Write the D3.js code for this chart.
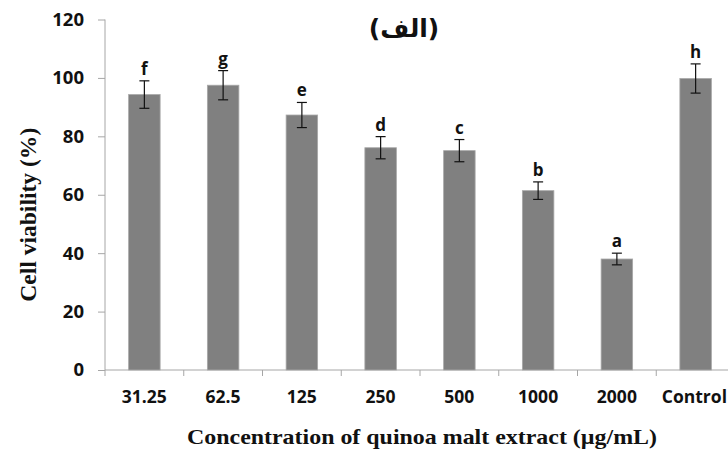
<!DOCTYPE html>
<html>
<head>
<meta charset="utf-8">
<script src="https://cdn.jsdelivr.net/npm/d3@7"></script>
<style>
  body { margin: 0; background: #fff; }
  svg { display: block; }
</style>
</head>
<body>
<div id="chart"></div>
<script>
// data
const categories = ["31.25", "62.5", "125", "250", "500", "1000", "2000", "Control"]
const viability = [94.3, 97.5, 87.3, 76.1, 75.1, 61.4, 38.0, 99.8]
const errors = [4.7, 5.0, 4.3, 3.8, 3.8, 3.0, 2.0, 5.0]
const letters = ["f", "g", "e", "d", "c", "b", "a", "h"]
const yTicks = [0, 20, 40, 60, 80, 100, 120]

const width = 728
const height = 452
const margin = {top: 19.5, right: -7, bottom: 82, left: 105}

const svg = d3
  .select("#chart")
  .append("svg")
  .attr("width", width)
  .attr("height", height)

const x = d3
  .scaleBand()
  .domain(categories)
  .range([margin.left, width - margin.right])
  .paddingInner(0.6)
  .paddingOuter(0.3)

const y = d3
  .scaleLinear()
  .domain([0, 120])
  .range([height - margin.bottom, margin.top])

const axisColor = "#a6a6a6"
const tickFont = "'Open Sans', sans-serif"

// y axis
const yAxis = svg
  .append("g")
  .attr("transform", `translate(${margin.left},0)`)
  .call(d3.axisLeft(y).tickValues(yTicks).tickSize(7).tickPadding(14))
yAxis.select(".domain").attr("stroke", axisColor).attr("d", `M0,${y(0)}V${y(120)}`)
yAxis.selectAll(".tick line").attr("stroke", axisColor)
yAxis
  .selectAll(".tick text")
  .attr("fill", "#111")
  .style("font-family", tickFont)
  .style("font-weight", "bold")
  .style("font-size", "18.5px")

// x axis: ticks sit on the band boundaries
const step = x.step()
const xAxis = svg.append("g").attr("transform", `translate(0,${y(0)})`)
xAxis
  .append("line")
  .attr("x1", margin.left)
  .attr("x2", width)
  .attr("stroke", axisColor)
xAxis
  .selectAll(".xtick")
  .data(categories)
  .enter()
  .append("line")
  .attr("class", "xtick")
  .attr("x1", d => x(d) - step * 0.3)
  .attr("x2", d => x(d) - step * 0.3)
  .attr("y1", 0)
  .attr("y2", 6)
  .attr("stroke", axisColor)
xAxis
  .selectAll(".xlabel")
  .data(categories)
  .enter()
  .append("text")
  .attr("class", "xlabel")
  .attr("x", d => x(d) + x.bandwidth() / 2)
  .attr("y", 33)
  .attr("text-anchor", "middle")
  .attr("fill", "#111")
  .style("font-family", tickFont)
  .style("font-weight", "bold")
  .style("font-size", "17.5px")
  .text(d => d)
  .filter(d => d === "Control")
  .attr("x", width - 1)
  .attr("text-anchor", "end")

// bars
const bars = svg.append("g")
bars
  .selectAll("rect")
  .data(categories)
  .enter()
  .append("rect")
  .attr("x", d => x(d))
  .attr("width", x.bandwidth())
  .attr("y", (d, i) => y(viability[i]))
  .attr("height", (d, i) => y(0) - y(viability[i]))
  .attr("fill", "#808080")
  .attr("stroke", "#a8a8a8")
  .attr("stroke-width", 0.8)

// error bars
const err = svg.append("g").attr("stroke", "#111").attr("stroke-width", 1.2)
categories.forEach((c, i) => {
  const cx = x(c) + x.bandwidth() / 2
  const hi = y(viability[i] + errors[i])
  const lo = y(viability[i] - errors[i])
  err.append("line").attr("x1", cx).attr("x2", cx).attr("y1", hi).attr("y2", lo)
  err.append("line").attr("x1", cx - 5).attr("x2", cx + 5).attr("y1", hi).attr("y2", hi)
  err.append("line").attr("x1", cx - 5).attr("x2", cx + 5).attr("y1", lo).attr("y2", lo)
})

// significance letters
svg
  .append("g")
  .selectAll("text")
  .data(categories)
  .enter()
  .append("text")
  .attr("x", d => x(d) + x.bandwidth() / 2)
  .attr("y", (d, i) => y(viability[i] + errors[i]) - 6)
  .attr("text-anchor", "middle")
  .attr("fill", "#111")
  .style("font-family", "'Open Sans', sans-serif")
  .style("font-weight", "bold")
  .style("font-size", "17px")
  .text((d, i) => letters[i])

// title
svg
  .append("text")
  .attr("x", 404)
  .attr("y", 37)
  .attr("text-anchor", "middle")
  .attr("fill", "#111")
  .style("font-family", "'DejaVu Sans', sans-serif")
  .style("font-weight", "bold")
  .style("font-size", "25px")
  .text("(الف)")

// axis titles
svg
  .append("text")
  .attr("transform", `translate(36,${(y(0) + y(120)) / 2 + 20}) rotate(-90)`)
  .attr("text-anchor", "middle")
  .attr("fill", "#111")
  .style("font-family", "'Liberation Serif', serif")
  .style("font-weight", "bold")
  .style("font-size", "24px")
  .attr("textLength", 174)
  .attr("lengthAdjust", "spacingAndGlyphs")
  .text("Cell viability (%)")

svg
  .append("text")
  .attr("x", 422)
  .attr("y", 444)
  .attr("text-anchor", "middle")
  .attr("fill", "#111")
  .style("font-family", "'Liberation Serif', serif")
  .style("font-weight", "bold")
  .style("font-size", "21px")
  .attr("textLength", 470)
  .attr("lengthAdjust", "spacingAndGlyphs")
  .text("Concentration of quinoa malt extract (µg/mL)")
</script>
</body>
</html>
